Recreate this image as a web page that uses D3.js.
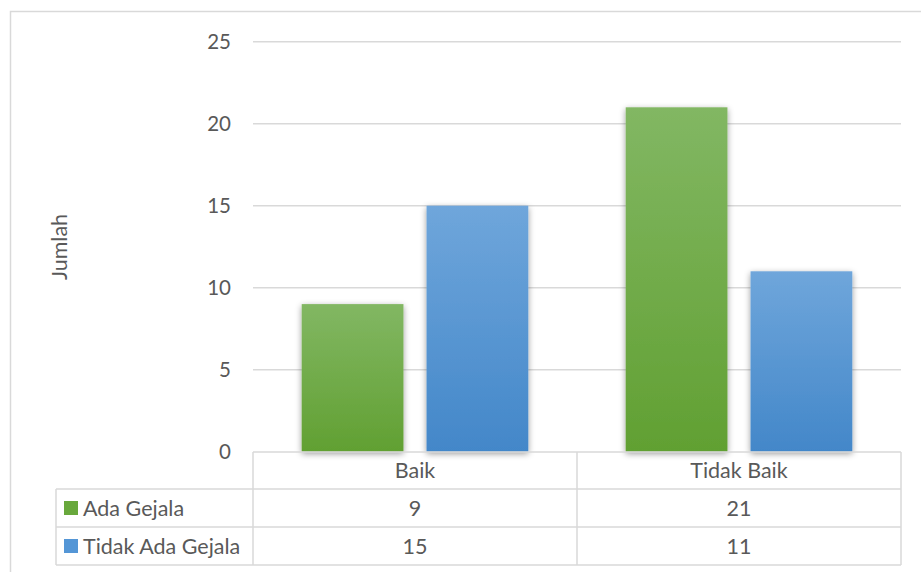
<!DOCTYPE html>
<html>
<head>
<meta charset="utf-8">
<script src="https://cdn.jsdelivr.net/npm/d3@7/dist/d3.min.js"></script>
<style>
  html, body { margin: 0; padding: 0; background: #fff; }
  svg { display: block; font-family: Lato, "Open Sans", sans-serif; }
</style>
</head>
<body>
<svg id="chart" width="921" height="572"></svg>
<script>
// Categories, series and values
const categories = ["Baik", "Tidak Baik"];
const seriesNames = ["Ada Gejala", "Tidak Ada Gejala"];
const adaGejala = [9, 21];
const tidakAdaGejala = [15, 11];
const yTicks = [0, 5, 10, 15, 20, 25];
const yTitle = "Jumlah";

const seriesValues = [adaGejala, tidakAdaGejala];
const topColors = ["#82b763", "#6fa6db"];
const bottomColors = ["#61a032", "#4387c9"];
const legendColors = ["#68a83c", "#5496d6"];

const svg = d3.select("#chart");
const grid = "#d9d9d9";
const textColor = "#595959";

const plotLeft = 253, plotRight = 901, plotTop = 41.7, plotBottom = 451.7;
const rowTop = [452, 489, 527, 565];
const tableLeft = 56;

const defs = svg.append("defs");
seriesNames.forEach((s, i) => {
  const g = defs.append("linearGradient")
    .attr("id", "grad" + i).attr("x1", 0).attr("x2", 0).attr("y1", 0).attr("y2", 1);
  g.append("stop").attr("offset", "0%").attr("stop-color", topColors[i]);
  g.append("stop").attr("offset", "100%").attr("stop-color", bottomColors[i]);
});
const f = defs.append("filter").attr("id", "shadow")
  .attr("x", "-20%").attr("y", "-10%").attr("width", "140%").attr("height", "130%");
f.append("feDropShadow").attr("dx", 0).attr("dy", 2).attr("stdDeviation", 3)
  .attr("flood-color", "#000").attr("flood-opacity", 0.4);

// Outer chart frame
svg.append("rect").attr("x", 10.5).attr("y", 11.5).attr("width", 960).attr("height", 600)
  .attr("fill", "none").attr("stroke", grid).attr("stroke-width", 1.5);

const y = d3.scaleLinear().domain([0, 25]).range([plotBottom, plotTop]);
const x0 = d3.scaleBand().domain(categories).range([plotLeft, plotRight]).paddingInner(0).paddingOuter(0);
const x1 = d3.scaleBand().domain(seriesNames).range([0, x0.bandwidth()]).paddingInner(0.185).paddingOuter(0.39);

// Gridlines
svg.append("g").selectAll("line").data(yTicks.filter(t => t > 0)).join("line")
  .attr("x1", plotLeft).attr("x2", plotRight)
  .attr("y1", d => y(d)).attr("y2", d => y(d))
  .attr("stroke", grid).attr("stroke-width", 1.5);

// Y axis labels
const yAxis = d3.axisLeft(y).tickValues(yTicks).tickSize(0).tickPadding(0);
const ya = svg.append("g").attr("transform", "translate(231,0)").call(yAxis);
ya.select(".domain").remove();
ya.selectAll("text").attr("fill", textColor).attr("font-size", 20.5).attr("font-family", "Lato, sans-serif");

// Y axis title
svg.append("text").attr("transform", "translate(67,247) rotate(-90)")
  .attr("text-anchor", "middle").attr("fill", textColor).attr("font-size", 21.5).text(yTitle);

// Bars
const groups = svg.append("g").selectAll("g").data(categories).join("g")
  .attr("transform", d => `translate(${x0(d)},0)`);
groups.selectAll("rect").data((c, ci) => seriesNames.map((s, si) => ({ s, si, v: seriesValues[si][ci] })))
  .join("rect")
  .attr("x", d => x1(d.s)).attr("width", x1.bandwidth())
  .attr("y", d => y(d.v)).attr("height", d => y(0) - y(d.v))
  .attr("fill", d => `url(#grad${d.si})`)
  .attr("filter", "url(#shadow)");

// Data table
const tbl = svg.append("g").attr("stroke", grid).attr("stroke-width", 1.5);
tbl.append("line").attr("x1", plotLeft).attr("x2", plotRight).attr("y1", rowTop[0]).attr("y2", rowTop[0]);
[1, 2, 3].forEach(r => tbl.append("line").attr("x1", tableLeft).attr("x2", plotRight).attr("y1", rowTop[r]).attr("y2", rowTop[r]));
tbl.append("line").attr("x1", tableLeft).attr("x2", tableLeft).attr("y1", rowTop[1]).attr("y2", rowTop[3]);
[plotLeft, plotLeft + x0.bandwidth(), plotRight].forEach(xx =>
  tbl.append("line").attr("x1", xx).attr("x2", xx).attr("y1", rowTop[0]).attr("y2", rowTop[3]));

const tt = svg.append("g").attr("fill", textColor).attr("font-size", 21.5);
categories.forEach(c => {
  tt.append("text").attr("x", x0(c) + x0.bandwidth() / 2).attr("y", (rowTop[0] + rowTop[1]) / 2)
    .attr("dy", "0.35em").attr("text-anchor", "middle").text(c);
});
seriesNames.forEach((s, si) => {
  const cy = (rowTop[si + 1] + rowTop[si + 2]) / 2;
  svg.append("rect").attr("x", 64).attr("y", cy - 7).attr("width", 14).attr("height", 14)
    .attr("fill", legendColors[si]);
  tt.append("text").attr("x", 83).attr("y", cy).attr("dy", "0.35em").text(s);
  categories.forEach((c, ci) => {
    tt.append("text").attr("x", x0(c) + x0.bandwidth() / 2).attr("y", cy)
      .attr("dy", "0.35em").attr("text-anchor", "middle").text(seriesValues[si][ci]);
  });
});
</script>
</body>
</html>
